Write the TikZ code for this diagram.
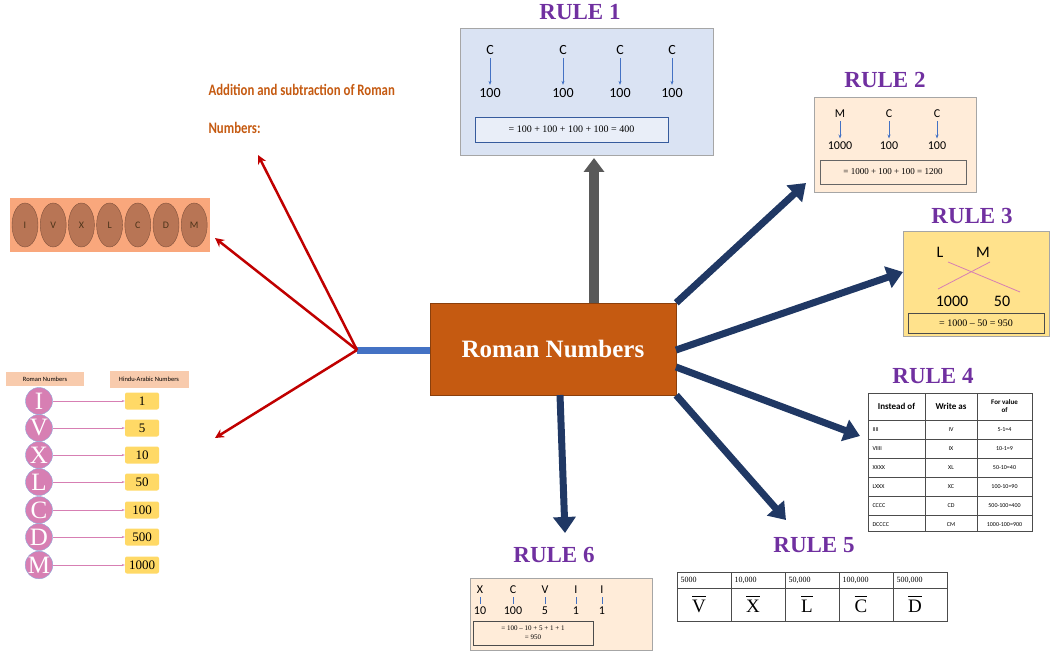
\documentclass[tikz,border=0pt]{standalone}
\usepackage{fontspec}
\setmainfont{Liberation Serif}
\newfontfamily\sans{Carlito}
\newfontfamily\narrow{Carlito}[FakeStretch=0.8]
\usetikzlibrary{arrows.meta,shapes.geometric}
\definecolor{brn}{HTML}{C55A11}
\definecolor{purp}{HTML}{7030A0}
\definecolor{navy}{HTML}{203864}
\definecolor{redc}{HTML}{C00000}
\definecolor{bluel}{HTML}{4472C4}
\definecolor{pinkc}{HTML}{D77FB3}
\definecolor{yel}{HTML}{FFD966}
\definecolor{peach}{HTML}{F8CBAD}
\definecolor{ovc}{HTML}{B87555}
\definecolor{barc}{HTML}{F9A77C}
\newcommand{\obar}[1]{\leavevmode\vbox{\hrule height 1pt \kern 3pt\hbox{#1}}}
\begin{document}
\begin{tikzpicture}[x=1pt,y=-1pt,
 rule/.style={text=purp,font=\bfseries\fontsize{23}{23}\selectfont},
 navyar/.style={navy,line width=7pt,-{Triangle[length=16pt,width=22pt]}},
 redar/.style={redc,line width=2.5pt,-{Stealth[length=9pt,width=9pt]}},
 box/.style={draw=gray!70,line width=0.6pt},
 sn/.style={font=\sans\fontsize{14}{14}\selectfont},
 small/.style={font=\sans\fontsize{6.5}{7}\selectfont},
 bl/.style={bluel,line width=0.8pt,-{Stealth[length=4pt,width=3pt]}},
 rom/.style={circle,fill=pinkc,draw=bluel!60,minimum size=27pt,inner sep=0pt,text=white,font=\fontsize{25}{25}\selectfont},
 yb/.style={fill=yel,rounded corners=2pt,minimum width=34pt,minimum height=17pt,inner sep=0pt,font=\fontsize{13}{13}\selectfont},
 ov/.style={ellipse,fill=ovc,draw=ovc!70!black,minimum width=26pt,minimum height=44pt,inner sep=0pt,font=\sans\fontsize{10}{10}\selectfont,text=brown!40!black}]
\useasboundingbox (0,0) rectangle (1056,652);
% hub
\node[fill=brn,draw=brn!70!black,minimum width=246pt,minimum height=92pt,text=white,font=\bfseries\fontsize{25}{25}\selectfont] (main) at (553,349) {Roman Numbers};
\coordinate (hub) at (357,350);
\draw[bluel,line width=7pt] (hub) -- (main.west |- hub);
% left text
\node[anchor=west,text=brn,font=\narrow\bfseries\fontsize{16}{16}\selectfont] (t1) at (205,90) {Addition and subtraction of Roman};
\node[anchor=west,text=brn,font=\narrow\bfseries\fontsize{16}{16}\selectfont] (t2) at (205,128) {Numbers:};
\coordinate (r1) at (258,155);\coordinate (r2) at (215,238);\coordinate (r3) at (215,438);
\draw[redar] (hub) -- (r1);\draw[redar] (hub) -- (r2);\draw[redar] (hub) -- (r3);
% orange bar
\node[fill=barc,minimum width=200pt,minimum height=54pt] (bar) at (110,225) {};
\foreach \l [count=\i] in {I,V,X,L,C,D,M}{\node[ov] (o\i) at (25+28.2*\i-28.2,225) {\l};}
% left table
\node[fill=peach,minimum width=78pt,minimum height=14pt,small] (hr) at (45,379) {Roman Numbers};
\node[fill=peach,minimum width=79pt,minimum height=17pt,small] (ha) at (149,379) {Hindu-Arabic Numbers};
\foreach \l/\v/\y [count=\i] in {I/1/401,V/5/428,X/10/455,L/50/482,C/100/510,D/500/537,M/1000/565}{
 \node[rom] (c\i) at (39,\y) {\l};
 \node[yb] (y\i) at (142,\y) {\v};
 \draw[pinkc,line width=0.7pt,-{Stealth[length=3pt]}] (c\i) -- (y\i);}
% gray arrow
\draw[black!65,line width=10pt,-{Triangle[length=14pt,width=20pt]}] (main.north -| 594,0) -- (594,158);
% rule 1
\node[rule] (R1) at (580,12) {RULE 1};
\node[box,fill=bluel!20,minimum width=253pt,minimum height=127pt] (b1) at (586.5,91.5) {};
\foreach \x [count=\i] in {490,563,620,672}{\node[sn] (c1\i) at (\x,50) {C};\node[sn] (n1\i) at (\x,93) {100};\draw[bl] (c1\i) -- (n1\i);}
\node[draw=bluel!80!black,fill=bluel!12,minimum width=193pt,minimum height=25pt,font=\fontsize{10}{10}\selectfont] (e1) at (571.5,129.5) {= 100 + 100 + 100 + 100 = 400};
% rule 2
\node[rule] (R2) at (885,80) {RULE 2};
\node[box,fill=orange!15,minimum width=162pt,minimum height=95pt] (b2) at (895,144.5) {};
\foreach \l/\v/\x [count=\i] in {M/1000/840,C/100/889,C/100/937}{\node[font=\sans\fontsize{12}{12}\selectfont] (c2\i) at (\x,114) {\l};\node[font=\sans\fontsize{12}{12}\selectfont] (n2\i) at (\x,146) {\v};\draw[bl] (c2\i) -- (n2\i);}
\node[draw=gray!80!black,minimum width=146pt,minimum height=24pt,font=\fontsize{9}{9}\selectfont] (e2) at (893,172) {= 1000 + 100 + 100 = 1200};
% rule 3
\node[rule] (R3) at (972,216) {RULE 3};
\node[box,fill=yel!75,minimum width=146pt,minimum height=105pt] (b3) at (976,283.5) {};
\node[font=\sans\fontsize{16}{16}\selectfont] (L3) at (940,252) {L};
\node[font=\sans\fontsize{16}{16}\selectfont] (M3) at (983,252) {M};
\node[font=\sans\fontsize{16}{16}\selectfont] (a3) at (952,301) {1000};
\node[font=\sans\fontsize{16}{16}\selectfont] (f3) at (1002,301) {50};
\draw[pinkc,line width=0.8pt] (948,262) -- (1020,292);
\draw[pinkc,line width=0.8pt] (990,262) -- (938,289);
\node[draw=gray!60!black,minimum width=136pt,minimum height=20pt,font=\fontsize{10}{10}\selectfont] (e3) at (976,323) {= 1000 -- 50 = 950};
% rule 4
\node[rule] (R4) at (933,376) {RULE 4};
\draw[black!70,line width=0.6pt] (868,393) rectangle (1032,531);
\foreach \y in {420,439,458,477,496,515}{\draw[black!70,line width=0.5pt] (868,\y) -- (1032,\y);}
\draw[black!70,line width=0.5pt] (925,393) -- (925,531) (977,393) -- (977,531);
\node[font=\sans\bfseries\fontsize{9}{9}\selectfont] (h41) at (896.5,406) {Instead of};
\node[font=\sans\bfseries\fontsize{9}{9}\selectfont] (h42) at (951,406) {Write as};
\node[align=center,font=\sans\bfseries\fontsize{7}{8}\selectfont] (h43) at (1004.5,406) {For value\\of};
\foreach \a/\b/\c [count=\i] in {IIII/IV/5-1=4,VIIII/IX/10-1=9,XXXX/XL/50-10=40,LXXX/XC/100-10=90,CCCC/CD/500-100=400,DCCCC/CM/1000-100=900}{
 \node[anchor=west,font=\sans\fontsize{6}{6}\selectfont] (a4\i) at (869,410.5+19*\i) {\a};
 \node[font=\sans\fontsize{6}{6}\selectfont] (b4\i) at (951,410.5+19*\i) {\b};
 \node[font=\sans\fontsize{6}{6}\selectfont] (d4\i) at (1004.5,410.5+19*\i) {\c};}
% rule 5
\node[rule] (R5) at (814,545) {RULE 5};
\draw[black!70,line width=0.6pt] (677,572) rectangle (947,621);
\draw[black!70,line width=0.5pt] (677,588) -- (947,588);
\foreach \x in {731,785,839,893}{\draw[black!70,line width=0.5pt] (\x,572) -- (\x,621);}
\foreach \v/\l [count=\i] in {5000/V,{10,000}/X,{50,000}/L,{100,000}/C,{500,000}/D}{
 \node[anchor=west,font=\fontsize{8}{8}\selectfont] (v5\i) at (677+54*\i-54,580) {\v};
 \node[font=\fontsize{19}{19}\selectfont] (l5\i) at (699+54*\i-54,604) {\obar{\l}};}
% rule 6
\node[rule] (R6) at (554,555) {RULE 6};
\node[box,fill=orange!15,minimum width=182pt,minimum height=72pt] (b6) at (561,614) {};
\foreach \l/\v/\x [count=\i] in {X/10/480,C/100/513,V/5/545,I/1/576,I/1/602}{\node[font=\sans\fontsize{12}{12}\selectfont] (c6\i) at (\x,590) {\l};\node[font=\sans\fontsize{12}{12}\selectfont] (n6\i) at (\x,611) {\v};\draw[bluel,line width=0.8pt] (c6\i.south) -- (n6\i.north);}
\node[draw=gray!60!black,minimum width=120pt,minimum height=24pt,align=center,font=\fontsize{7}{9}\selectfont] (e6) at (533,633) {= 100 -- 10 + 5 + 1 + 1\\= 950};
% navy arrows
\draw[navyar] (main.north east) -- (806,183);
\draw[navyar] (676,350) -- (903,272);
\draw[navyar] (676,367) -- (860,436);
\draw[navyar] (main.south east) -- (786,520);
\draw[navyar] (560,395) -- (565,533);
\end{tikzpicture}
\end{document}
